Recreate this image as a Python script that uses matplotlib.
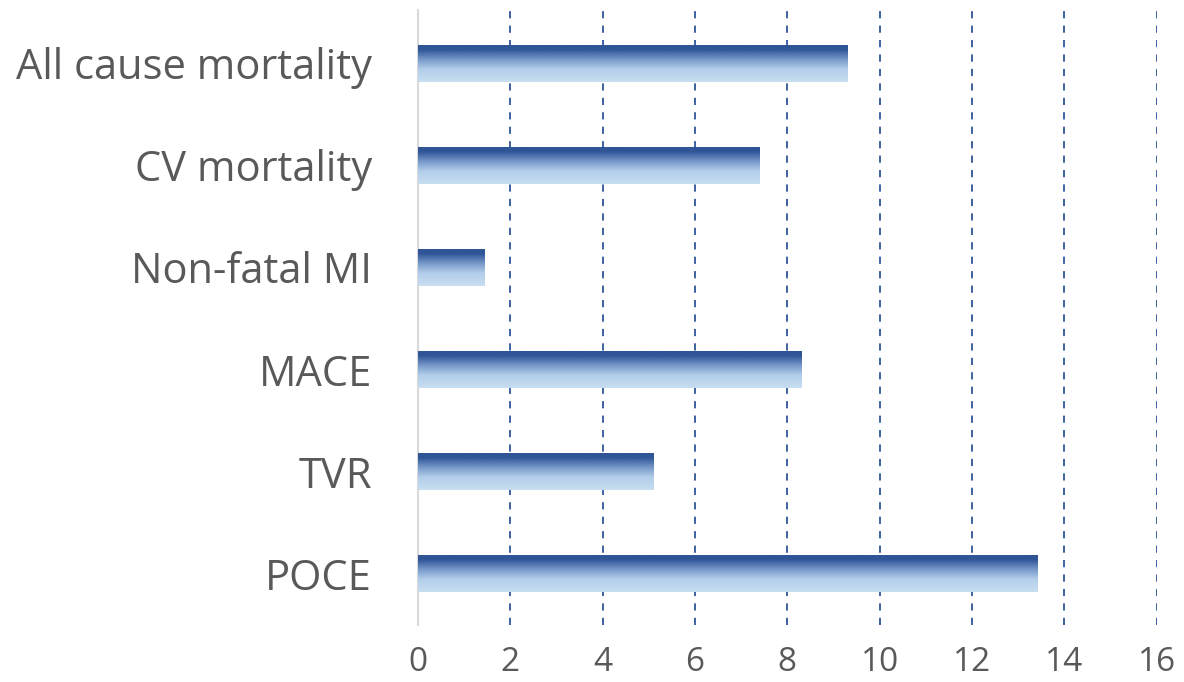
import numpy as np
import matplotlib.pyplot as plt
from matplotlib.colors import LinearSegmentedColormap

# categories top to bottom
categories = ["All cause mortality", "CV mortality", "Non-fatal MI", "MACE", "TVR", "POCE"]
values = [9.31, 7.40, 1.45, 8.31, 5.11, 13.42]
xticks = [0, 2, 4, 6, 8, 10, 12, 14, 16]

plt.rcParams["font.family"] = ["Open Sans", "DejaVu Sans"]

fig = plt.figure(figsize=(11.84, 6.82), dpi=100)
ax = fig.add_axes([0.353, 0.0836, 0.624, 0.9017])

y = np.arange(len(categories))
bars = ax.barh(y, values, height=0.36, color="none", edgecolor="none", zorder=3)

# vertical gradient, dark at top to light at bottom
cmap = LinearSegmentedColormap.from_list(
    "grad", [(0.0, "#C9DEF1"), (0.35, "#B2CEEA"), (0.6, "#7A9BCB"),
             (0.88, "#2F5597"), (1.0, "#2F5597")]
)
grad = np.linspace(0, 1, 256).reshape(-1, 1)
for b in bars:
    x0, y0 = b.get_x(), b.get_y()
    w, h = b.get_width(), b.get_height()
    # y axis is inverted, so the image origin flips accordingly
    ax.imshow(grad, extent=(x0, x0 + w, y0 + h, y0), origin="lower",
              cmap=cmap, aspect="auto", zorder=3, interpolation="bilinear")

ax.set_xlim(0, 16)
ax.set_ylim(len(categories) - 0.5, -0.52)
ax.set_yticks(y)
ax.set_yticklabels(categories, fontsize=30, color="#595959")
ax.set_xticks(xticks)
ax.set_xticklabels([str(t) for t in xticks], fontsize=24, color="#595959")
ax.tick_params(axis="both", length=0)
ax.tick_params(axis="y", pad=33)
ax.tick_params(axis="x", pad=15)

for t in xticks[1:]:
    ax.axvline(t, color="#2F5597", linestyle=(0, (4, 4)), linewidth=1.3, zorder=1)

for s in ["top", "right", "bottom"]:
    ax.spines[s].set_visible(False)
ax.spines["left"].set_color("#D9D9D9")
ax.spines["left"].set_linewidth(1.5)

fig.savefig("out.png", dpi=100)
